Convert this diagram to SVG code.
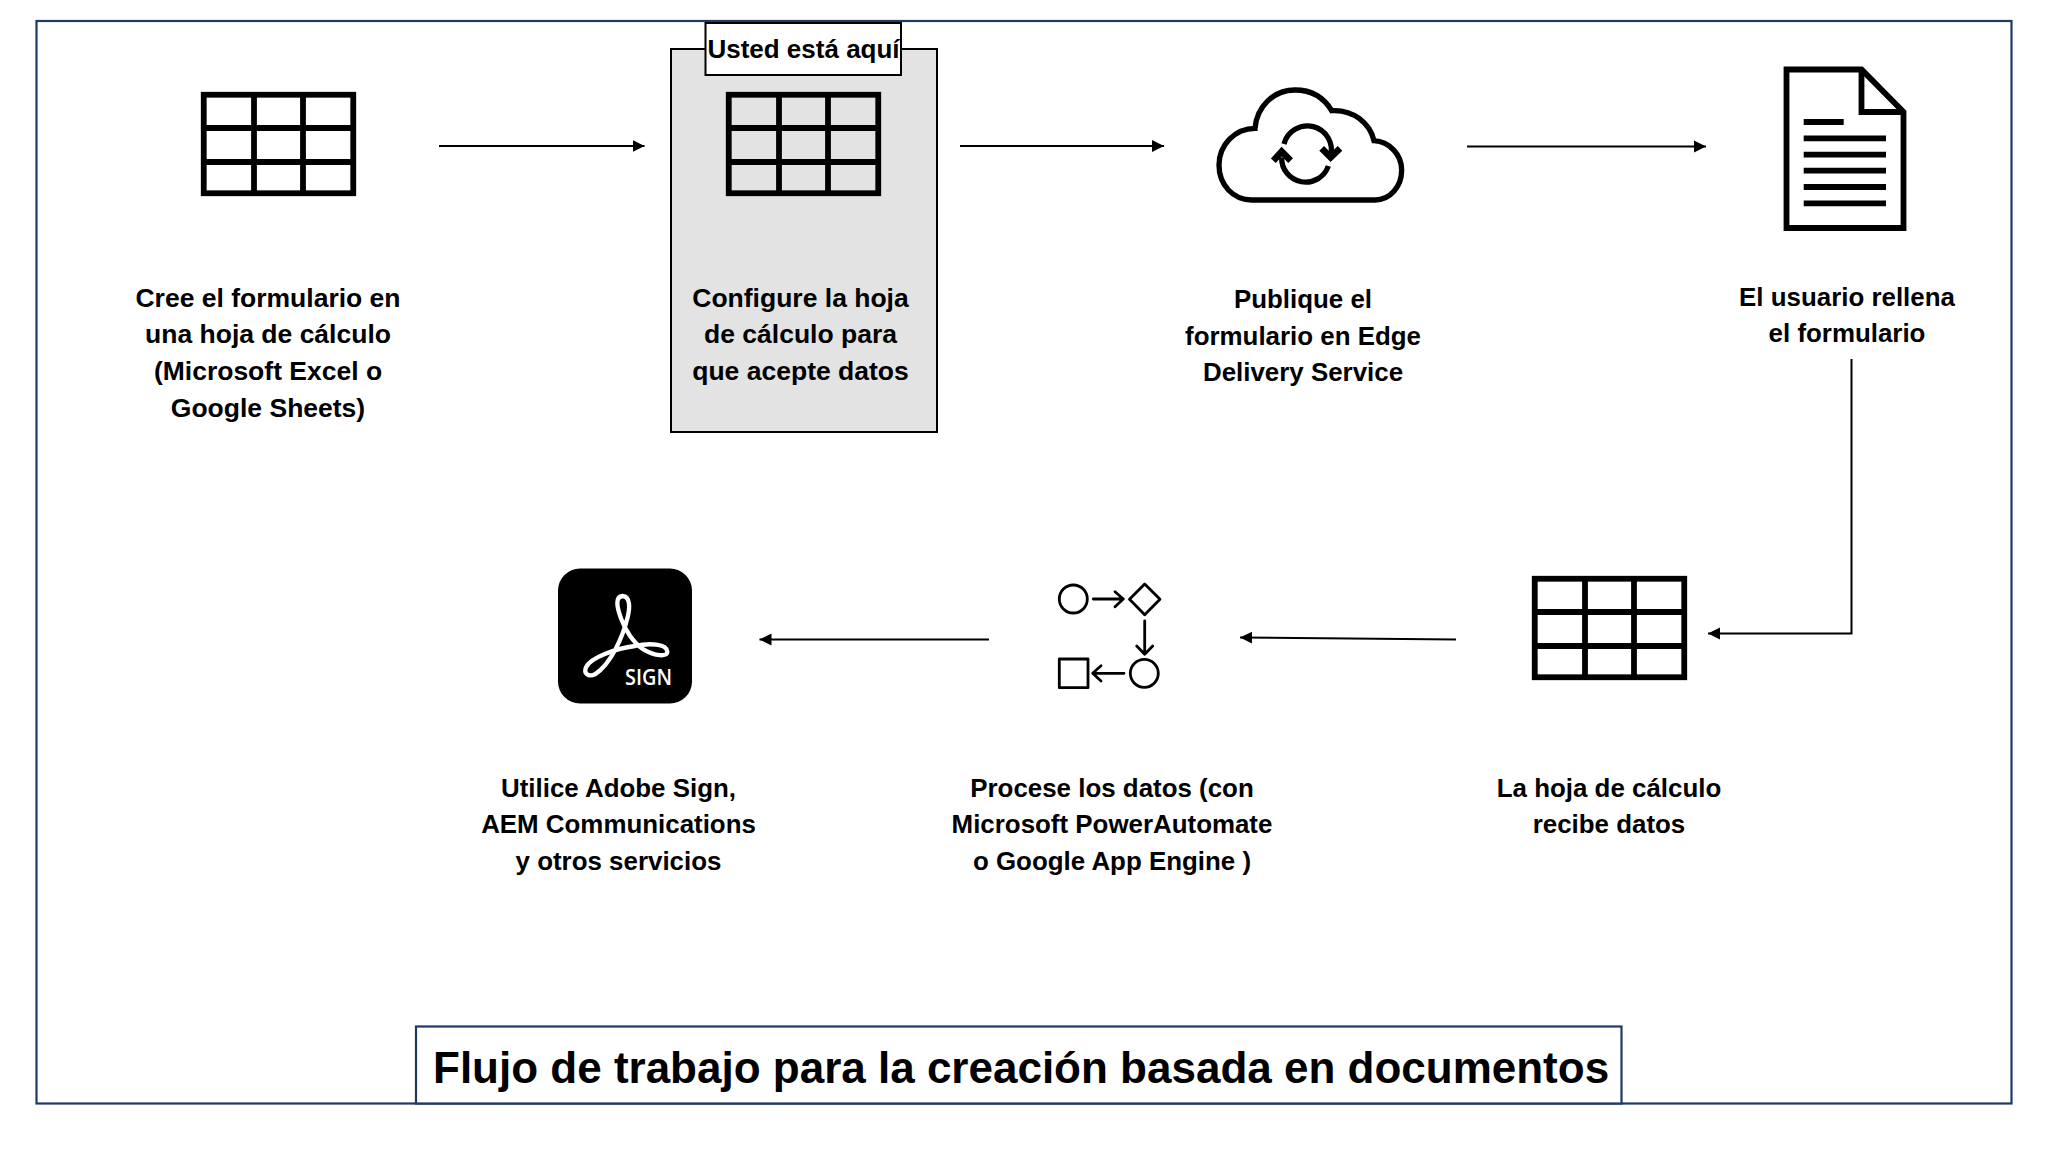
<svg xmlns="http://www.w3.org/2000/svg" width="2048" height="1152" viewBox="0 0 2048 1152">
<style>
text{font-family:"Liberation Sans",Arial,sans-serif;font-weight:700;fill:#000}
.l{font-size:25.9px;text-anchor:middle}
.t{font-size:26.5px}
.c{fill:none;stroke:#000;stroke-width:2}
.g{fill:none;stroke:#000;stroke-width:5.8}
.f{fill:none;stroke:#000;stroke-width:2.8;stroke-linecap:round;stroke-linejoin:round}
</style>
<defs>
<marker id="a" markerUnits="userSpaceOnUse" markerWidth="13" markerHeight="13" refX="12" refY="6.5" orient="auto"><path d="M0,0.5L12,6.5L0,12.5Z" fill="#000"/></marker>
<g id="tbl"><rect x="2.75" y="2.75" width="149.5" height="98.5"/><path d="M53 3V101M102 3V101M3 36H152M3 70H152"/></g>
</defs>
<rect width="2048" height="1152" fill="#fff"/>
<rect id="frame" x="36.5" y="21" width="1975" height="1082.5" fill="none" stroke="#1f3864" stroke-width="2.2"/>
<g id="n1"><use href="#tbl" x="201" y="92" class="g"/>
<text class="l t" x="268" y="307">Cree el formulario en</text><text class="l t" x="268" y="343">una hoja de cálculo</text><text class="l t" x="268" y="380">(Microsoft Excel o</text><text class="l t" x="268" y="416.5">Google Sheets)</text></g>
<g id="n2"><rect x="671" y="49" width="266" height="383" fill="#e3e3e3" stroke="#000" stroke-width="2"/>
<rect x="705.5" y="23" width="195.5" height="52" fill="#fff" stroke="#000" stroke-width="2"/>
<text x="803.5" y="58" font-size="26" text-anchor="middle">Usted está aquí</text>
<use href="#tbl" x="726" y="92" class="g"/>
<text class="l t" x="800.5" y="307">Configure la hoja</text><text class="l t" x="800.5" y="343">de cálculo para</text><text class="l t" x="800.5" y="380">que acepte datos</text></g>
<g id="n3"><g transform="translate(1180 70) scale(.33333)" fill="none" stroke="#000" stroke-width="16">
<path d="M215 390H585C630 390 665 350 665 300C665 255 630 215 582 212C570 160 520 118 455 122C430 80 390 60 345 60C280 60 230 110 225 175C165 175 117 225 117 285C117 345 160 390 215 390Z"/>
<path d="M312 222A72 72 0 0 1 452 258M445 288A72 72 0 0 1 305 262"/><path stroke-width="20" d="M425 235L452 262L480 235M280 272L305 245L332 272"/></g>
<text class="l" x="1303" y="308">Publique el</text><text class="l" x="1303" y="344.5">formulario en Edge</text><text class="l" x="1303" y="381">Delivery Service</text></g>
<g id="n4"><path class="g" d="M1786.5 69.5H1861.5L1903.5 112V228H1786.5Z"/><path class="g" d="M1861.5 69.5V112H1903.5"/>
<path class="g" d="M1803.7 122H1843.7M1803.7 138.3H1886M1803.7 154.7H1886M1803.7 170.7H1886M1803.7 187H1886M1803.7 203.3H1886"/>
<text class="l" x="1847" y="306">El usuario rellena</text><text class="l" x="1847" y="342">el formulario</text></g>
<g id="n5"><use href="#tbl" x="1532" y="576" class="g"/>
<text class="l" x="1609" y="797">La hoja de cálculo</text><text class="l" x="1609" y="833">recibe datos</text></g>
<g id="n6"><circle class="f" cx="1073.3" cy="599" r="14"/><path class="f" d="M1093.3 599H1123.3M1115 591.7L1123.3 599L1115 606.7"/>
<path class="f" d="M1144.7 584L1160 599.3L1144.7 614.7L1129.5 599.3Z"/><path class="f" d="M1144.7 621V654M1136.7 646L1144.7 654.3L1152.7 646"/>
<circle class="f" cx="1144.3" cy="673.3" r="14"/><rect class="f" x="1059.3" y="659" width="28.7" height="28.7"/><path class="f" d="M1124 673.3H1092.7M1101 665.7L1092.7 673.3L1101 681"/>
<text class="l" x="1112" y="797">Procese los datos (con</text><text class="l" x="1112" y="833">Microsoft PowerAutomate</text><text class="l" x="1112" y="870">o Google App Engine )</text></g>
<g id="n7"><rect x="558" y="568.5" width="134" height="135" rx="22" fill="#000"/>
<path transform="translate(520 540) scale(.33333)" fill="none" stroke="#fff" stroke-width="13" stroke-linejoin="round" d="M225 403C205 412 190 400 198 382C212 352 290 325 345 318C390 308 440 312 442 335C442 352 405 348 370 328C340 308 315 270 303 235C290 200 285 170 308 168C332 170 330 205 322 235C310 285 275 370 225 403Z"/>
<text x="625" y="684.7" font-size="22" textLength="47" lengthAdjust="spacingAndGlyphs" style="font-family:'Open Sans',sans-serif;font-weight:600;fill:#fff">SIGN</text>
<text class="l" x="618.5" y="797">Utilice Adobe Sign,</text><text class="l" x="618.5" y="833">AEM Communications</text><text class="l" x="618.5" y="870">y otros servicios</text></g>
<g id="connectors">
<path class="c" marker-end="url(#a)" d="M439 146H644.5"/>
<path class="c" marker-end="url(#a)" d="M960 146H1164"/>
<path class="c" marker-end="url(#a)" d="M1467 146.5H1706"/>
<path class="c" marker-end="url(#a)" d="M1851.5 359V633.5H1708"/>
<path class="c" marker-end="url(#a)" d="M1456 639.5L1240 637.5"/>
<path class="c" marker-end="url(#a)" d="M989 639.5H759.5"/>
</g>
<g id="title"><rect x="416" y="1026.5" width="1205.5" height="77" fill="#fff" stroke="#1f3864" stroke-width="2.2"/>
<text x="433" y="1083" font-size="44">Flujo de trabajo para la creación basada en documentos</text></g>
</svg>
